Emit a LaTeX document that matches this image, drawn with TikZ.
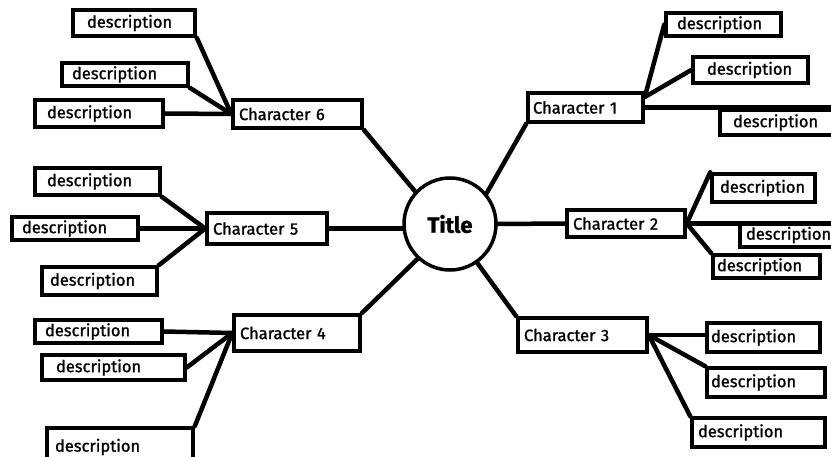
\documentclass[tikz,border=0pt]{standalone}
\usepackage{fontspec}
\setmainfont{Fira Sans}[FakeBold=1.2]
\newfontfamily\titlefont{Fira Sans Bold}
\usetikzlibrary{calc}
\tikzset{
  box/.style={draw, line width=3.5pt, rectangle, inner ysep=0pt, align=left,
    font=\fontsize{16.5}{18}\selectfont},
  conn/.style={line width=4.5pt, line cap=round},
  ttl/.style={draw, circle, line width=3.5pt, minimum size=92pt, inner sep=0pt,
    font=\bfseries\fontsize{22}{24}\selectfont}
}
% name, x1, y1, x2, y2, text, left padding
\newcommand\bx[7]{%
  \pgfmathsetmacro\bxw{#4-#2}%
  \pgfmathsetmacro\bxh{#5-#3}%
  \pgfmathsetmacro\bxt{#4-#2-2*#7}%
  \node[box, inner xsep=#7pt, minimum width=\bxw pt, minimum height=\bxh pt,
        text width=\bxt pt] (#1) at ({(#2+#4)/2},{(#3+#5)/2}) {#6};%
}
\begin{document}
\begin{tikzpicture}[x=1pt,y=-1pt]
\fill[white] (0,0) rectangle (831,457);
\useasboundingbox (0,0) rectangle (831,457);

\node[ttl] (title) at (450,224) {Title};

% characters
\bx{c6}{233}{100}{362}{128}{Character 6}{6}
\bx{c5}{207}{213}{327}{244}{Character 5}{6}
\bx{c4}{234}{315}{360}{351}{Character 4}{6}
\bx{c1}{528}{93}{643}{122}{Character 1}{5}
\bx{c2}{567}{210}{685}{237}{Character 2}{6}
\bx{c3}{518}{318}{647}{352}{Character 3}{6}

% descriptions left
\bx{d6a}{73}{10}{195}{36}{description}{14}
\bx{d6b}{62}{63}{188}{86}{description}{10}
\bx{d6c}{35}{100}{163}{127}{description}{12}
\bx{d5a}{35}{168}{160}{195}{description}{12}
\bx{d5b}{12}{217}{138}{240}{description}{10}
\bx{d5c}{42}{267}{157}{295}{description}{8}
\bx{d4a}{35}{320}{162}{343}{description}{10}
\bx{d4b}{42}{355}{185}{380}{description}{14}
\bx{d4c}{47}{428}{193}{466}{description}{8}

% descriptions right
\bx{d1a}{666}{13}{781}{36}{description}{11}
\bx{d1b}{693}{57}{808}{83}{description}{14}
\bx{d1c}{720}{110}{842}{135}{description}{13}
\bx{d2a}{712}{174}{815}{202}{description}{8}
\bx{d2b}{740}{223}{842}{247}{description}{6}
\bx{d2c}{713}{255}{820}{278}{description}{4}
\bx{d3a}{707}{323}{820}{352}{description}{4}
\bx{d3b}{707}{368}{825}{397}{description}{4}
\bx{d3c}{692}{418}{825}{447}{description}{6}

% title connectors
\draw[conn] (c6.south east) -- (title.137);
\draw[conn] (c5.east) -- (title.west |- c5.east);
\draw[conn] (c4.north east) -- (title.227);
\draw[conn] (c1.south west) -- (title.40);
\draw[conn] (title.east) -- (c2.west);
\draw[conn] (c3.north west) -- (title.305);

% description connectors
\draw[conn] (d6a.south east) -- (c6.west);
\draw[conn] (d6b.south east) -- (c6.west);
\draw[conn] (d6c.east) -- (c6.west);
\draw[conn] (d5a.south east) -- (c5.west);
\draw[conn] (d5b.east) -- (c5.west);
\draw[conn] (d5c.north east) -- (c5.west);
\draw[conn] (d4a.east) -- (c4.west);
\draw[conn] (d4b.east) -- (c4.west);
\draw[conn] (d4c.north east) -- (c4.west);

\draw[conn] (c1.10) -- (d1a.west);
\draw[conn] (c1.10) -- (d1b.west);
\draw[conn] (c1.east) -- (c1.east -| d1c.east);
\draw[conn] (c2.east) -- (d2a.north west);
\draw[conn] (c2.east) -- (c2.east -| d2b.east);
\draw[conn] (c2.east) -- (d2c.north west);
\draw[conn] (c3.east) -- (c3.east -| d3a.west);
\draw[conn] (c3.east) -- (d3b.north west);
\draw[conn] (c3.east) -- (d3c.north west);
\end{tikzpicture}
\end{document}
